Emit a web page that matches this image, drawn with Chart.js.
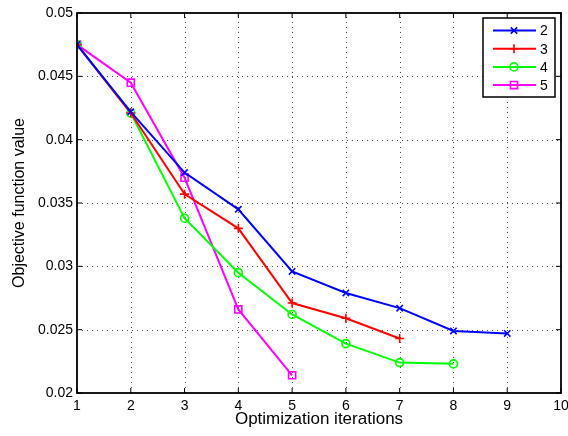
<!DOCTYPE html>
<html lang="en">
<head>
  <meta charset="UTF-8">
  <title>Objective function value vs iterations</title>
  <script src="https://cdn.jsdelivr.net/npm/chart.js@4.4.1/dist/chart.umd.min.js"></script>
  <style>
    html, body { margin: 0; padding: 0; background: #fff; }
    canvas { display: block; }
  </style>
</head>
<body>
  <canvas id="grafico" width="568" height="436"></canvas>
  <script>
    // iterations on the x axis
    const iteraciones = [1, 2, 3, 4, 5, 6, 7, 8, 9];
    const xTicks = [1, 2, 3, 4, 5, 6, 7, 8, 9, 10];
    const yTicks = [0.02, 0.025, 0.03, 0.035, 0.04, 0.045, 0.05];

    // objective value per run (series named 2..5)
    const nombres = ['2', '3', '4', '5'];
    const serie2 = [0.0475, 0.0422, 0.0374, 0.0345, 0.0296, 0.0279, 0.0267, 0.0249, 0.0247];
    const serie3 = [0.0475, 0.0421, 0.0357, 0.0330, 0.0271, 0.0259, 0.0243];
    const serie4 = [0.0475, 0.0421, 0.0338, 0.0295, 0.0262, 0.0239, 0.0224, 0.0223];
    const serie5 = [0.0475, 0.0445, 0.0370, 0.0266, 0.0214];

    const FUENTE = '"Liberation Sans", Arial, Helvetica, sans-serif';

    const estilos = [
      { color: '#0000ff', punto: 'crossRot', radio: 4.5 },
      { color: '#ff0000', punto: 'cross', radio: 4.5 },
      { color: '#00ff00', punto: 'circle', radio: 4 },
      { color: '#ff00ff', punto: 'rect', radio: 5 }
    ];

    function serie(valores, i) {
      const e = estilos[i];
      return {
        label: nombres[i],
        data: valores.map((v, k) => ({ x: iteraciones[k], y: v })),
        borderColor: e.color,
        backgroundColor: e.color,
        borderWidth: 2,
        tension: 0,
        pointStyle: e.punto,
        pointRadius: e.radio,
        pointHoverRadius: e.radio,
        pointBorderColor: e.color,
        pointBackgroundColor: 'rgba(0,0,0,0)',
        pointBorderWidth: 1.6
      };
    }

    // dotted grid under the lines
    const rejilla = {
      id: 'rejilla',
      beforeDatasetsDraw(chart) {
        const ctx = chart.ctx;
        const a = chart.chartArea;
        const xs = chart.scales.x, ys = chart.scales.y;
        ctx.save();
        ctx.strokeStyle = 'rgba(0,0,0,0.7)';
        ctx.lineWidth = 1;
        ctx.setLineDash([1, 4]);
        xTicks.slice(1, -1).forEach(v => {
          const px = Math.round(xs.getPixelForValue(v)) + 0.5;
          ctx.beginPath();
          ctx.moveTo(px, a.bottom); ctx.lineTo(px, a.top);
          ctx.stroke();
        });
        yTicks.slice(1, -1).forEach(v => {
          const py = Math.round(ys.getPixelForValue(v)) + 0.5;
          ctx.beginPath();
          ctx.moveTo(a.left, py); ctx.lineTo(a.right, py);
          ctx.stroke();
        });
        ctx.restore();
      }
    };

    // axes box, inward ticks and the legend box
    const marco = {
      id: 'marco',
      afterDraw(chart) {
        const ctx = chart.ctx;
        const a = chart.chartArea;
        const xs = chart.scales.x, ys = chart.scales.y;
        ctx.save();
        ctx.strokeStyle = '#000';
        ctx.lineWidth = 1;
        xTicks.forEach(v => {
          const px = xs.getPixelForValue(v);
          ctx.beginPath();
          ctx.moveTo(px, a.bottom); ctx.lineTo(px, a.bottom - 5);
          ctx.moveTo(px, a.top); ctx.lineTo(px, a.top + 5);
          ctx.stroke();
        });
        yTicks.forEach(v => {
          const py = ys.getPixelForValue(v);
          ctx.beginPath();
          ctx.moveTo(a.left, py); ctx.lineTo(a.left + 5, py);
          ctx.moveTo(a.right, py); ctx.lineTo(a.right - 5, py);
          ctx.stroke();
        });
        ctx.lineWidth = 1.8;
        ctx.strokeRect(a.left, a.top, a.right - a.left, a.bottom - a.top);

        // legend
        const lx = 483, ly = 18, lw = 72, lh = 79;
        ctx.fillStyle = '#fff';
        ctx.fillRect(lx, ly, lw, lh);
        ctx.lineWidth = 1.5;
        ctx.strokeRect(lx, ly, lw, lh);
        ctx.font = '14px ' + FUENTE;
        ctx.textBaseline = 'middle';
        chart.data.datasets.forEach((ds, i) => {
          const y = ly + 12.5 + i * 18.2;
          ctx.strokeStyle = ds.borderColor;
          ctx.lineWidth = 2;
          ctx.beginPath();
          ctx.moveTo(lx + 10, y); ctx.lineTo(lx + 53, y);
          ctx.stroke();
          ctx.fillStyle = 'rgba(0,0,0,0)';
          ctx.lineWidth = ds.pointBorderWidth;
          Chart.helpers.drawPoint(ctx, {
            pointStyle: ds.pointStyle, radius: ds.pointRadius,
            borderWidth: ds.pointBorderWidth, rotation: 0
          }, lx + 31, y);
          ctx.fillStyle = '#000';
          ctx.fillText(ds.label, lx + 57, y + 1);
        });
        ctx.restore();
      }
    };

    new Chart(document.getElementById('grafico'), {
      type: 'line',
      data: {
        datasets: [serie(serie2, 0), serie(serie3, 1), serie(serie4, 2), serie(serie5, 3)]
      },
      options: {
        responsive: false,
        animation: false,
        devicePixelRatio: 1,
        layout: { padding: { left: 0, right: 7, top: 13, bottom: 0 } },
        plugins: { legend: { display: false }, tooltip: { enabled: false } },
        scales: {
          x: {
            type: 'linear',
            min: 1,
            max: 10,
            afterBuildTicks: s => { s.ticks = xTicks.map(v => ({ value: v })); },
            afterFit: s => { s.height = 43; s.paddingLeft = 0; s.paddingRight = 0; },
            grid: { display: false, drawTicks: false },
            border: { display: false },
            ticks: {
              color: '#000',
              padding: 5,
              maxRotation: 0,
              autoSkip: false,
              font: { family: FUENTE, size: 14 },
              callback: v => String(v)
            },
            title: {
              display: true,
              text: 'Optimization iterations',
              color: '#000',
              font: { family: FUENTE, size: 17 },
              padding: { top: 0, bottom: 6 }
            }
          },
          y: {
            min: 0.02,
            max: 0.05,
            afterBuildTicks: s => { s.ticks = yTicks.map(v => ({ value: v })); },
            afterFit: s => { s.width = 77; s.paddingTop = 0; s.paddingBottom = 0; },
            grid: { display: false, drawTicks: false },
            border: { display: false },
            ticks: {
              color: '#000',
              padding: 4,
              autoSkip: false,
              font: { family: FUENTE, size: 14 },
              callback: v => String(parseFloat(v.toFixed(3)))
            },
            title: {
              display: true,
              text: 'Objective function value',
              color: '#000',
              font: { family: FUENTE, size: 16 },
              padding: { top: 10, bottom: 0 }
            }
          }
        }
      },
      plugins: [rejilla, marco]
    });
  </script>
</body>
</html>
